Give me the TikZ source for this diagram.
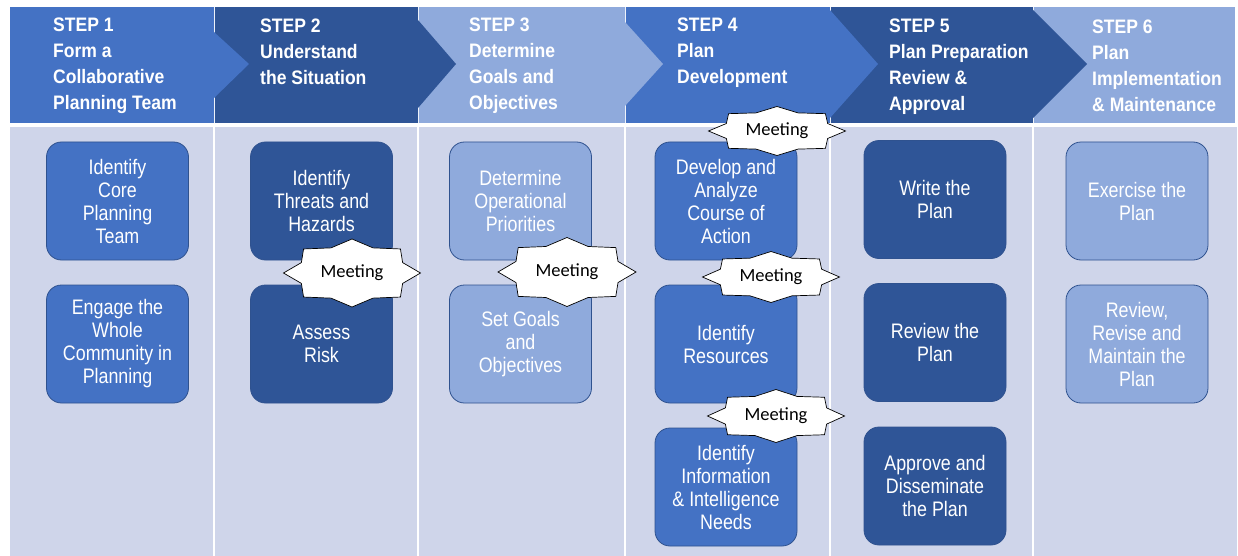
\documentclass[tikz,border=0pt]{standalone}
\usepackage{fontspec}
\setmainfont{Liberation Sans}
\newfontfamily\hdrfont{Liberation Sans}[FakeStretch=0.9]
\newfontfamily\boxfont{Liberation Sans}[FakeStretch=0.85]
\newfontfamily\meetfont{Carlito}
\definecolor{cmed}{HTML}{4472C4}
\definecolor{cdark}{HTML}{2F5597}
\definecolor{clight}{HTML}{8FAADC}
\definecolor{cbody}{HTML}{CFD5EA}
\definecolor{cedge}{HTML}{2F528F}
\tikzset{
  hdr/.style={anchor=north west, inner sep=0pt, align=left, text=white,
    font=\hdrfont\bfseries\fontsize{19.5}{26}\selectfont},
  task/.style={draw=cedge, line width=0.8pt, rounded corners=15pt,
    minimum width=142pt, minimum height=118pt, inner sep=2pt, align=center,
    text=white, font=\boxfont\fontsize{21}{23}\selectfont},
  meetstar/.style={draw=black, fill=white, line width=0.7pt, line join=miter},
  meettext/.style={inner sep=0pt, font=\meetfont\fontsize{18.5}{20}\selectfont},
  sep/.style={draw=white, line width=2pt},
  bansep/.style={draw=white!85!clight, line width=1pt},
}
\newcommand{\meetshape}[3]{% center name, rx, ry
  \draw[meetstar, shift={(#1)}] plot[samples at={0,22.5,...,337.5}, variable=\t]
    ({#2*(1-0.2*mod(round(\t/22.5),2))*cos(\t)},{#3*(1-0.2*mod(round(\t/22.5),2))*sin(\t)}) -- cycle;}
\begin{document}
\begin{tikzpicture}[x=1pt,y=-1pt]
\useasboundingbox (0,0) rectangle (1238,556);
\fill[white] (0,0) rectangle (1238,556);
% body
\fill[cbody] (10,127) rectangle (1237,556);
\foreach \xx in {214,418,625,830,1033} \draw[sep] (\xx,127) -- (\xx,556);
% banner rectangles
\fill[cmed]   (10,7)   rectangle (214,123);
\fill[cdark]  (214,7)  rectangle (418,123);
\fill[clight] (418,7)  rectangle (625,123);
\fill[cmed]   (625,7)  rectangle (830,123);
\fill[cdark]  (830,7)  rectangle (1033,123);
\fill[clight] (1033,7) rectangle (1235,123);
\foreach \xx in {214,418,625,830,1033} \draw[bansep] (\xx,7) -- (\xx,123);
% chevron points
\fill[cmed]   (214,32) -- (249,64) -- (214,98) -- cycle;
\fill[cdark]  (418,20) -- (456,64) -- (418,108) -- cycle;
\fill[clight] (625,22) -- (663,64) -- (625,106) -- cycle;
\fill[cmed]   (830,10) -- (878,64) -- (830,118) -- cycle;
\fill[cdark]  (1033,10) -- (1087,64) -- (1033,118) -- cycle;
% headers
\node[hdr] (h1) at (53,18)   {STEP 1\\Form a\\Collaborative\\Planning Team};
\node[hdr] (h2) at (260,19)  {STEP 2\\Understand\\the Situation};
\node[hdr] (h3) at (469,18)  {STEP 3\\Determine\\Goals and\\Objectives};
\node[hdr] (h4) at (677,18)  {STEP 4\\Plan\\Development};
\node[hdr] (h5) at (889,19)  {STEP 5\\Plan Preparation\\Review \&\\Approval};
\node[hdr] (h6) at (1092,20) {STEP 6\\Plan\\Implementation\\\& Maintenance};
% task boxes
\node[task, fill=cmed]   (b11) at (117.5,201) {Identify\\Core\\Planning\\Team};
\node[task, fill=cmed]   (b12) at (117.5,344) {Engage the\\Whole\\Community in\\Planning};
\node[task, fill=cdark]  (b21) at (321.5,201) {Identify\\Threats and\\Hazards};
\node[task, fill=cdark]  (b22) at (321.5,344) {Assess\\Risk};
\node[task, fill=clight] (b31) at (520.5,201) {Determine\\Operational\\Priorities};
\node[task, fill=clight] (b32) at (520.5,344) {Set Goals\\and\\Objectives};
\node[task, fill=cmed]   (b41) at (726,201) {Develop and\\Analyze\\Course of\\Action};
\node[task, fill=cmed]   (b42) at (726,344) {Identify\\Resources};
\node[task, fill=cmed]   (b43) at (726,487) {Identify\\Information\\\& Intelligence\\Needs};
\node[task, fill=cdark]  (b51) at (935,199.5) {Write the\\Plan};
\node[task, fill=cdark]  (b52) at (935,342.5) {Review the\\Plan};
\node[task, fill=cdark]  (b53) at (935,486) {Approve and\\Disseminate\\the Plan};
\node[task, fill=clight] (b61) at (1137,201) {Exercise the\\Plan};
\node[task, fill=clight] (b62) at (1137,344) {Review,\\Revise and\\Maintain the\\Plan};
% meeting stars
\coordinate (c2) at (352,273);
\coordinate (c3) at (567,272);
\coordinate (c4a) at (777,131);
\coordinate (c4b) at (771,277);
\coordinate (c4c) at (776,416);
\meetshape{c2}{68.5}{34}
\meetshape{c3}{69}{34.5}
\meetshape{c4a}{68.5}{24.5}
\meetshape{c4b}{68.5}{25.5}
\meetshape{c4c}{68.5}{26.5}
\node[meettext] (m2) at (c2) {Meeting};
\node[meettext] (m3) at (c3) {Meeting};
\node[meettext] (m4a) at (c4a) {Meeting};
\node[meettext] (m4b) at (c4b) {Meeting};
\node[meettext] (m4c) at (c4c) {Meeting};
\end{tikzpicture}
\end{document}
